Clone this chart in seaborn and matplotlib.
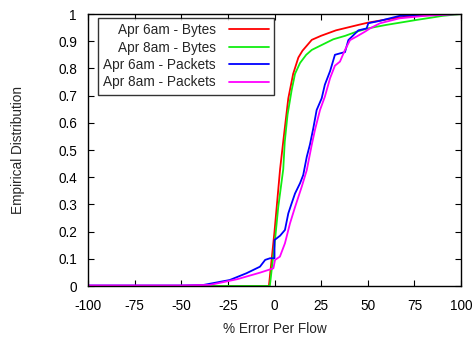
import pandas as pd
import seaborn as sns
import matplotlib
matplotlib.use("Agg")
import matplotlib.pyplot as plt

# CDF points
red_x = [-100, -3, 0, 3, 5, 7.4, 10, 12.8, 15, 20, 25, 33, 45, 50, 60, 70, 85, 95, 100]
red_y = [0, 0, 0.2, 0.43, 0.55, 0.69, 0.78, 0.84, 0.865, 0.905, 0.92, 0.94, 0.96, 0.968,
         0.98, 0.99, 0.997, 1, 1]

green_x = [-100, -2.5, 0, 2, 4.7, 5.5, 7, 9.2, 11, 13.7, 17, 20, 25, 31.5, 38, 44, 50, 60,
           76, 90, 100]
green_y = [0, 0, 0.15, 0.29, 0.43, 0.53, 0.63, 0.72, 0.78, 0.82, 0.85, 0.868, 0.885, 0.907,
           0.92, 0.935, 0.947, 0.96, 0.978, 0.993, 1]

blue_x = [-100, -50, -38, -24, -15, -7.8, -5, -2.4, 0, 0, 3, 5.6, 7.4, 9, 11, 13.7, 15.4,
          17.3, 19, 20.8, 22.6, 25.3, 27, 29.8, 32.4, 35, 37.8, 39.6, 45, 49.4, 50.3, 56.6,
          67, 80, 99.5, 100]
blue_y = [0.002, 0.002, 0.004, 0.022, 0.047, 0.071, 0.096, 0.102, 0.102, 0.169, 0.185, 0.206,
          0.267, 0.3, 0.34, 0.378, 0.408, 0.475, 0.52, 0.58, 0.647, 0.69, 0.74, 0.79, 0.85,
          0.855, 0.86, 0.904, 0.94, 0.947, 0.966, 0.975, 0.993, 0.997, 1, 1]

mag_x = [-100, -50, -34.6, -20, -7.8, -2.4, -0.6, 0.3, 2.9, 5.6, 8.3, 11, 14.6, 17.3, 20,
         21.7, 24.4, 27, 29.8, 32.4, 35.1, 37.8, 40.5, 44, 48.5, 51.2, 56.6, 67, 80, 99.5, 100]
mag_y = [0.002, 0.002, 0.004, 0.025, 0.049, 0.061, 0.065, 0.096, 0.108, 0.157, 0.23, 0.29,
         0.365, 0.426, 0.52, 0.574, 0.647, 0.696, 0.764, 0.81, 0.825, 0.868, 0.904, 0.917,
         0.935, 0.947, 0.966, 0.984, 0.993, 1, 1]

names = ["Apr 6am - Bytes", "Apr 8am - Bytes", "Apr 6am - Packets", "Apr 8am - Packets"]
colors = ["#ff0000", "#11ee11", "#0000ff", "#ff00ff"]
xticks = [-100, -75, -50, -25, 0, 25, 50, 75, 100]
yticks = [0, 0.1, 0.2, 0.3, 0.4, 0.5, 0.6, 0.7, 0.8, 0.9, 1]
yticklabels = ["0", "0.1", "0.2", "0.3", "0.4", "0.5", "0.6", "0.7", "0.8", "0.9", "1"]


def main():
    series = [(red_x, red_y), (green_x, green_y), (blue_x, blue_y), (mag_x, mag_y)]
    frames = []
    for name, (xs, ys) in zip(names, series):
        frames.append(pd.DataFrame({"err": xs, "cdf": ys, "series": name}))
    data = pd.concat(frames, ignore_index=True)

    sns.set_style("ticks")
    plt.rcParams["font.family"] = ["Liberation Sans", "DejaVu Sans"]

    fig = plt.figure(figsize=(4.74, 3.39), dpi=100)
    ax = fig.add_axes([88 / 474, 1 - 286 / 339, 373 / 474, 272 / 339])
    sns.lineplot(data=data, x="err", y="cdf", hue="series", hue_order=names,
                 palette=colors, estimator=None, sort=False, linewidth=1.3, ax=ax)

    ax.set_xlim(-100, 100)
    ax.set_ylim(0, 1)
    ax.set_xticks(xticks)
    ax.set_xticklabels([str(t) for t in xticks])
    ax.set_yticks(yticks)
    ax.set_yticklabels(yticklabels)
    ax.tick_params(direction="in", length=4, width=0.8, top=True, right=True,
                   labelsize=9.8, colors="black")
    ax.tick_params(axis="y", pad=8)
    ax.tick_params(axis="x", pad=9)
    for s in ax.spines.values():
        s.set_visible(True)
        s.set_color("black")
        s.set_linewidth(1.0)
    ax.set_xlabel("% Error Per Flow", fontsize=9.8, labelpad=7)
    ax.set_ylabel("Empirical Distribution", fontsize=9.8, labelpad=24)

    leg = ax.legend(loc="upper left", bbox_to_anchor=(0.027, 0.985), markerfirst=False,
                    fontsize=9.8, frameon=True, fancybox=False, edgecolor="black",
                    handlelength=2.9, handletextpad=1.0, labelspacing=0.25,
                    borderpad=0.38, borderaxespad=0)
    leg.get_frame().set_linewidth(1.0)
    for t in leg.get_texts():
        t.set_ha("right")
    leg._legend_box.align = "right"

    plt.savefig("out.png", dpi=100)


if __name__ == '__main__':
    main()
